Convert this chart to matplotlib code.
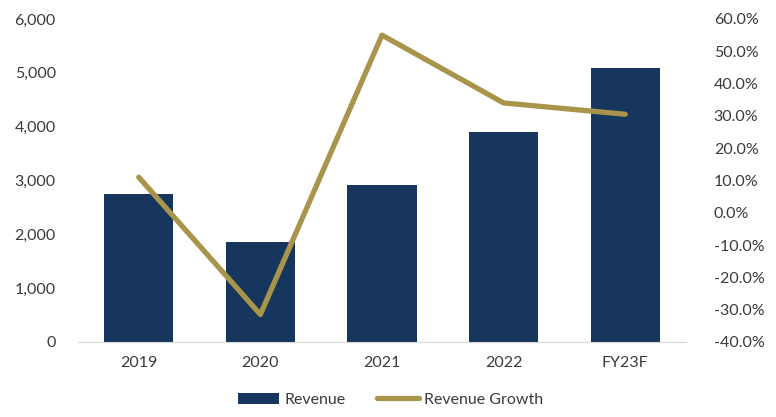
import numpy as np
import matplotlib.pyplot as plt
from matplotlib.ticker import FuncFormatter

years = ['2019', '2020', '2021', '2022', 'FY23F']
revenue = [2740, 1860, 2920, 3900, 5090]
growth = [11.0, -31.5, 55.0, 34.0, 30.5]

bar_color = '#17365D'
line_color = '#A8944A'
text_color = '#3A3A3A'

plt.rcParams['font.family'] = ['Lato', 'DejaVu Sans']

fig = plt.figure(figsize=(7.76, 4.17), dpi=100)
ax = fig.add_axes([0.1005, 0.18, 0.7835, 0.7745])
x = np.arange(len(years))
bars = ax.bar(x, revenue, width=0.57, color=bar_color, label='Revenue', zorder=2)
ax.set_xlim(-0.5, len(years) - 0.5)
ax.set_ylim(0, 6000)
ax.set_yticks(np.arange(0, 6001, 1000))
ax.yaxis.set_major_formatter(FuncFormatter(lambda v, p: f'{v:,.0f}'))
ax.set_xticks(x)
ax.set_xticklabels(years)
for s in ['top', 'right', 'left']:
    ax.spines[s].set_visible(False)
ax.spines['bottom'].set_color('#D9D9D9')
ax.tick_params(length=0, labelsize=11.5, colors=text_color)
ax.tick_params(axis='y', pad=16)
ax.tick_params(axis='x', pad=10)

ax2 = ax.twinx()
line, = ax2.plot(x, growth, color=line_color, lw=3.8, solid_capstyle='round',
                 label='Revenue Growth', zorder=3)
ax2.set_ylim(-40, 60)
ax2.set_yticks(np.arange(-40, 61, 10))
ax2.yaxis.set_major_formatter(FuncFormatter(lambda v, p: f'{v:.1f}%'))
for s in ax2.spines.values():
    s.set_visible(False)
ax2.tick_params(length=0, labelsize=11.5, colors=text_color, pad=20)

fig.legend([bars, line], ['Revenue', 'Revenue Growth'], loc='lower center',
           bbox_to_anchor=(0.503, -0.01), ncol=2, frameon=False, fontsize=11.5,
           handlelength=2.6, handletextpad=0.3, columnspacing=2.0,
           labelcolor=text_color)

fig.savefig('out.png', dpi=100)
